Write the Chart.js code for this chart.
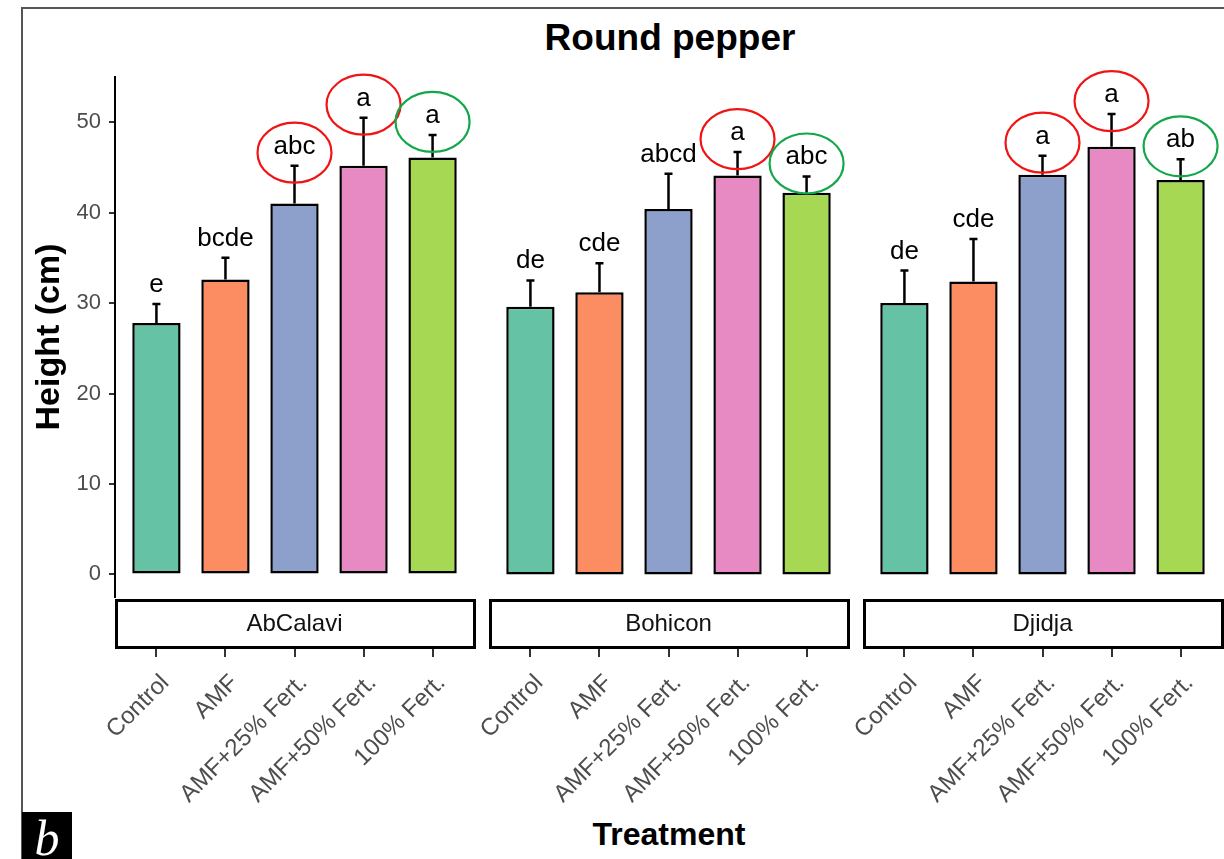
<!DOCTYPE html>
<html>
<head>
<meta charset="utf-8">
<title>Round pepper</title>
<script src="https://cdn.jsdelivr.net/npm/chart.js@4.4.0/dist/chart.umd.min.js"></script>
<style>
  html, body { margin: 0; padding: 0; background: #fff; }
  #fig { position: relative; width: 1224px; height: 859px; overflow: hidden; font-family: "Liberation Sans", Arial, sans-serif; }
  #frame { position: absolute; left: 21px; top: 7px; width: 1300px; height: 900px; border-top: 2px solid #555; border-left: 2px solid #555; }
  canvas { position: absolute; top: 0; }
  #title { position: absolute; left: 470px; width: 400px; top: 19px; text-align: center; font-size: 37px; font-weight: bold; line-height: 1; color: #000; }
  #xtitle { position: absolute; left: 469px; width: 400px; top: 818px; text-align: center; font-size: 32px; font-weight: bold; line-height: 1; color: #000; }
  #tag { position: absolute; left: 22px; top: 812px; width: 50px; height: 47px; background: #000; }
  #tag span { position: absolute; left: 0; width: 50px; top: 1px; text-align: center; color: #fff; font-family: "Liberation Serif", "DejaVu Serif", serif; font-style: italic; font-size: 50px; line-height: 1; }
</style>
</head>
<body>
<div id="fig">
  <div id="frame"></div>
  <div id="title">Round pepper</div>
  <div id="xtitle">Treatment</div>
  <div id="tag"><span>b</span></div>
</div>
<script>
// daten
const sites = ["AbCalavi", "Bohicon", "Djidja"];
const treatments = ["Control", "AMF", "AMF+25% Fert.", "AMF+50% Fert.", "100% Fert."];
const yTicks = [0, 10, 20, 30, 40, 50];

const abcalaviMean = [27.8, 32.6, 41.0, 45.2, 46.1];
const abcalaviSe = [2.1, 2.4, 4.2, 5.3, 2.5];
const abcalaviLetters = ["e", "bcde", "abc", "a", "a"];
const abcalaviRings = [null, null, "red", "red", "green"];

const bohiconMean = [29.6, 31.2, 40.4, 44.1, 42.2];
const bohiconSe = [2.9, 3.2, 3.9, 2.6, 1.8];
const bohiconLetters = ["de", "cde", "abcd", "a", "abc"];
const bohiconRings = [null, null, null, "red", "green"];

const djidjaMean = [30.0, 32.4, 44.2, 47.3, 43.6];
const djidjaSe = [3.6, 4.7, 2.1, 3.6, 2.3];
const djidjaLetters = ["de", "cde", "a", "a", "ab"];
const djidjaRings = [null, null, "red", "red", "green"];

const means = [abcalaviMean, bohiconMean, djidjaMean];
const ses = [abcalaviSe, bohiconSe, djidjaSe];
const letters = [abcalaviLetters, bohiconLetters, djidjaLetters];
const rings = [abcalaviRings, bohiconRings, djidjaRings];

const barColors = ["#66C2A5", "#FC8D62", "#8DA0CB", "#E78AC3", "#A6D854"];
const ringColors = { red: "#f01414", green: "#12a84a" };
const fontFamily = '"Liberation Sans", Arial, sans-serif';

// layout der panels (seiten-x)
const panelLeft = [115, 489, 863];
const panelW = 359;

let fig = document.querySelector("#fig");

//fehlerbalken, buchstaben, kreise und streifen
function panelPlugin(i){
    return {
        id: "panel" + i,
        afterDatasetsDraw(chart){
            const ctx = chart.ctx;
            const xs = chart.scales.x;
            const ys = chart.scales.y;
            ctx.save();
            means[i].forEach((v, k) => {
                const px = xs.getPixelForValue(k);
                const y0 = ys.getPixelForValue(v);
                const y1 = ys.getPixelForValue(v + ses[i][k]);
                ctx.strokeStyle = "#000";
                ctx.lineWidth = 2.5;
                ctx.beginPath();
                ctx.moveTo(px, y0);
                ctx.lineTo(px, y1);
                ctx.moveTo(px - 4, y1);
                ctx.lineTo(px + 4, y1);
                ctx.stroke();

                ctx.fillStyle = "#000";
                ctx.font = "26px " + fontFamily;
                ctx.textAlign = "center";
                ctx.textBaseline = "alphabetic";
                ctx.fillText(letters[i][k], px, y1 - 12);

                if(rings[i][k]){
                    ctx.strokeStyle = ringColors[rings[i][k]];
                    ctx.lineWidth = 2.2;
                    ctx.beginPath();
                    ctx.ellipse(px, y1 - 13, 37, 30, 0, 0, 2 * Math.PI);
                    ctx.stroke();
                }
            });
            ctx.restore();
        },
        afterDraw(chart){
            const ctx = chart.ctx;
            const {left, right, bottom} = chart.chartArea;
            ctx.save();
            // tick-striche unter dem streifen verdecken
            ctx.fillStyle = "#fff";
            ctx.fillRect(left + 1.5, bottom - 3, right - left + 1, 54);
            ctx.strokeStyle = "#000";
            ctx.lineWidth = 3;
            ctx.strokeRect(left + 1.5, bottom + 3.5, right - left - 1, 47);
            ctx.fillStyle = "#111";
            ctx.font = "24px " + fontFamily;
            ctx.textAlign = "center";
            ctx.textBaseline = "middle";
            ctx.fillText(sites[i], (left + right) / 2, bottom + 27);
            ctx.restore();
        }
    };
}

function makePanel(i){
    const first = i === 0;
    const last = i === sites.length - 1;
    const padL = first ? 0 : 30;
    const padR = last ? 2 : 15;
    const leftPart = first ? panelLeft[0] : padL;

    let cv = document.createElement("canvas");
    cv.width = leftPart + panelW + padR;
    cv.height = 859;
    cv.style.left = (panelLeft[i] - leftPart) + "px";
    fig.appendChild(cv);

    const config = {
        type: "bar",
        data: {
            datasets: [{
                data: means[i].map((v, k) => ({x: k, y: v})),
                backgroundColor: barColors,
                borderColor: "#000",
                borderWidth: 2.5,
                borderSkipped: false,
                barPercentage: 0.7,
                categoryPercentage: 1.0
            }]
        },
        options: {
            responsive: false,
            animation: false,
            layout: { padding: { left: padL, right: padR, top: 77, bottom: 0 } },
            plugins: { legend: { display: false }, tooltip: { enabled: false } },
            scales: {
                x: {
                    type: "linear",
                    min: -0.6,
                    max: 4.6,
                    offset: false,
                    afterBuildTicks: (s) => { s.ticks = treatments.map((t, k) => ({value: k})); },
                    afterFit: (s) => { s.height = 262; },
                    ticks: {
                        callback: (v) => treatments[v],
                        autoSkip: false,
                        minRotation: 45,
                        maxRotation: 45,
                        padding: 12,
                        labelOffset: 9,
                        color: "#4d4d4d",
                        font: { family: fontFamily, size: 24 }
                    },
                    grid: { display: true, offset: false, drawOnChartArea: false, drawTicks: true, tickLength: 60, color: "#333", lineWidth: 2 },
                    border: { display: false }
                },
                y: {
                    display: first,
                    min: -2.5,
                    max: 55,
                    afterBuildTicks: (s) => { s.ticks = yTicks.map((v) => ({value: v})); },
                    afterFit: (s) => { if(first) s.width = panelLeft[0]; },
                    ticks: { color: "#4d4d4d", padding: 8, font: { family: fontFamily, size: 22 } },
                    grid: { display: true, drawOnChartArea: false, drawTicks: true, tickLength: 6, color: "#333", lineWidth: 2 },
                    border: { display: true, color: "#000", width: 2 },
                    title: {
                        display: true,
                        text: "Height (cm)",
                        color: "#000",
                        padding: { top: 29, bottom: 0 },
                        font: { family: fontFamily, size: 34, weight: "bold" }
                    }
                }
            }
        },
        plugins: [panelPlugin(i)]
    };

    new Chart(cv.getContext("2d"), config);
}

sites.forEach((s, i) => makePanel(i));
</script>
</body>
</html>
